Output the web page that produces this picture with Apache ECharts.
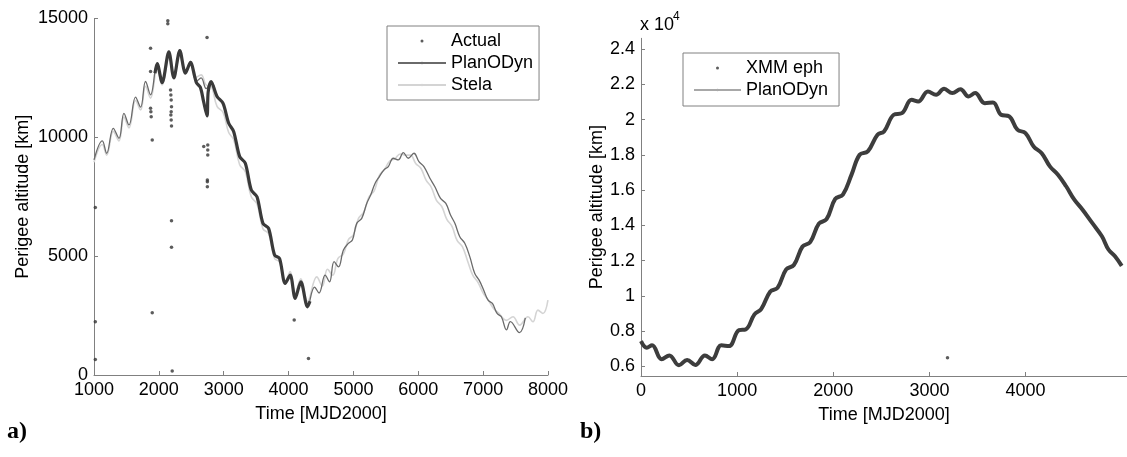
<!DOCTYPE html>
<html><head><meta charset="utf-8">
<script src="https://cdn.jsdelivr.net/npm/echarts@6/dist/echarts.min.js"></script>
<style>html,body{margin:0;padding:0;background:#fff}#c{width:1127px;height:457px}</style>
</head><body><div id="c"></div>
<script>
// ---------- Panel a) ----------
const planLeftT = [1000,1128,1195,1298,1385,1462,1539,1641,1718,1795,1872,1974,2051,2154,2231,2323,2410,2487,2579,2651,2730,2805,2897,2990,3077,3154,3246,3333,3425,3513,3605,3692,3784,3861,3948,4025,4102,4189,4292,4400,4470,4564,4631,4702,4769,4846,4923,4984,5051,5128,5205,5266,5333,5400,5471,5538,5615,5692,5769,5846,5933,6010,6087,6179,6256,6343,6425,6497,6564,6640,6717,6794,6871,6938,7009,7076,7143,7215,7281,7360,7420,7560,7650];
const planLeftV = [9050,9850,9330,10380,9960,11010,10520,11690,11270,12350,11790,13120,12350,13610,12630,13680,12770,13190,12350,12500,12050,12350,11720,11430,10590,10240,9190,8910,7780,7500,6380,6170,5050,4900,3850,4200,3220,3920,2870,3700,3450,4200,3920,4770,4550,5260,5540,5680,6380,6590,7220,7570,8060,8350,8630,8770,9120,9050,9360,9120,9330,8980,8770,8280,7920,7430,7220,6730,6380,5820,5540,4980,4270,3990,3570,3150,3010,2590,2450,1900,2250,1780,2400];

const stelaT = [1000,1128,1195,1298,1385,1462,1539,1641,1718,1795,1872,1974,2051,2154,2231,2323,2410,2487,2560,2651,2730,2805,2897,2990,3077,3154,3246,3333,3425,3513,3605,3692,3784,3861,3948,4025,4102,4189,4292,4435,4520,4600,4680,4760,4846,4923,5000,5080,5160,5240,5320,5400,5480,5560,5640,5720,5800,5880,5960,6040,6120,6200,6280,6360,6440,6520,6600,6680,6760,6840,6920,7000,7080,7160,7240,7358,7460,7563,7691,7768,7845,7922,7999];
const stelaV = [8950,9700,9250,10250,9850,10850,10400,11550,11150,12150,11650,12900,12200,13350,12500,13450,12700,13050,12500,12630,12200,12150,11300,11050,10200,9900,8850,8550,7500,7200,6150,5950,4900,4750,3900,4350,3450,4050,3100,4130,3750,4450,4200,4900,5100,5700,5900,6600,6850,7500,7750,8400,8650,9000,9100,9300,9250,9250,8900,8700,8200,7900,7350,7100,6550,6250,5650,5400,4800,4200,3900,3450,3150,2800,2600,2300,2450,2100,2450,2240,2730,2590,3150];

// dense "Actual" band (dots so close they form a thick curve)
const actualBandT = [1940,1974,2051,2154,2231,2323,2410,2487,2579,2640,2690,2743,2760,2805,2897,2990,3077,3154,3246,3333,3425,3513,3605,3692,3784,3861,3948,4025,4102,4189,4292,4330];
const actualBandV = [12700,13100,12300,13600,12500,13650,12700,13150,12300,12100,11500,10900,11900,12350,11720,11430,10590,10240,9190,8910,7780,7500,6380,6170,5050,4900,3850,4200,3220,3920,2870,3100];

// isolated "Actual" points
const actualT = [1020,1020,1020,1872,1872,1872,1877,1882,1898,1898,2138,2138,2180,2185,2190,2195,2190,2185,2190,2195,2195,2195,2206,2743,2692,2754,2754,2754,2748,2748,2748,4087,4307];
const actualV = [7050,2240,650,13750,12770,11220,11080,10870,9890,2620,14910,14780,11990,11780,11570,11290,11080,10940,10730,10480,6490,5370,170,14200,9610,9680,9470,9260,8210,8130,7920,2310,690];

const leftXTicks = [1000,2000,3000,4000,5000,6000,7000,8000];
const leftYTicks = [0,5000,10000,15000];

// ---------- Panel b) ----------
const xmmT = [0,60,115,215,295,395,480,565,665,740,835,915,1020,1090,1180,1250,1345,1420,1510,1590,1680,1760,1850,1930,2020,2100,2190,2274,2359,2460,2528,2629,2714,2815,2883,2984,3069,3153,3238,3323,3407,3475,3576,3661,3745,3830,3915,3999,4084,4168,4253,4337,4422,4507,4591,4693,4794,4862,4930,5000];
const xmmV = [7430,7060,7190,6400,6620,6060,6360,6080,6620,6400,7190,7150,8060,8100,8950,9250,10250,10450,11500,11750,12800,13050,14100,14350,15500,15750,16880,18010,18200,19150,19330,20280,20370,21130,21030,21600,21410,21750,21510,21730,21320,21510,20940,20980,20280,20190,19430,19240,18480,18100,17350,16880,16220,15460,14900,14140,13380,12630,12250,11700];
const xmmOutT = [3188];
const xmmOutV = [6480];

const rightXTicks = [0,1000,2000,3000,4000];
const rightYTicks = [6000,8000,10000,12000,14000,16000,18000,20000,22000,24000];

// ---------- chart ----------
const FONT = 'Liberation Sans, Arial, sans-serif';
const zip = (t, v) => t.map((x, i) => [x, v[i]]);
const AX = '#808080';
const plain = v => String(v);

function baseAxis(extra) {
  return Object.assign({
    type: 'value',
    axisLine: { show: true, onZero: false, lineStyle: { color: AX, width: 1 } },
    axisTick: { show: true, inside: true, length: 4, lineStyle: { color: AX, width: 1 } },
    splitLine: { show: false },
    axisLabel: { color: '#000', fontSize: 18, fontFamily: FONT, margin: 6, formatter: plain },
    nameLocation: 'middle',
    nameTextStyle: { color: '#000', fontSize: 18, fontFamily: FONT }
  }, extra);
}

const chart = echarts.init(document.getElementById('c'), null, { renderer: 'canvas' });
chart.setOption({
  animation: false,
  backgroundColor: '#fff',
  grid: [
    { left: 94, top: 18.5, width: 454, height: 356.5 },
    { left: 641, top: 38.3, width: 498, height: 337.7 }
  ],
  xAxis: [
    baseAxis({ gridIndex: 0, min: leftXTicks[0], max: leftXTicks[leftXTicks.length - 1], interval: 1000,
      name: 'Time [MJD2000]', nameGap: 30 }),
    baseAxis({ gridIndex: 1, min: 0, max: 5055,
      axisTick: { show: true, inside: true, length: 4, lineStyle: { color: AX }, customValues: rightXTicks },
      axisLabel: { color: '#000', fontSize: 18, fontFamily: FONT, margin: 6, customValues: rightXTicks, formatter: plain },
      name: 'Time [MJD2000]', nameGap: 30 })
  ],
  yAxis: [
    baseAxis({ gridIndex: 0, min: leftYTicks[0], max: leftYTicks[leftYTicks.length - 1], interval: 5000,
      name: 'Perigee altitude [km]', nameGap: 62 }),
    baseAxis({ gridIndex: 1, min: 5450, max: 24620,
      axisTick: { show: true, inside: true, length: 4, lineStyle: { color: AX }, customValues: rightYTicks },
      axisLabel: { color: '#000', fontSize: 18, fontFamily: FONT, margin: 6, customValues: rightYTicks,
        formatter: v => String(v / 10000) },
      name: 'Perigee altitude [km]', nameGap: 33 })
  ],
  legend: [
    { data: ['Actual', 'PlanODyn', 'Stela'], orient: 'vertical', left: 387, top: 26,
      itemWidth: 48, itemHeight: 3, itemGap: 0, padding: [4, 6, 4, 10],
      borderColor: '#808080', borderWidth: 1, backgroundColor: '#fff', selectedMode: false,
      textStyle: { color: '#000', fontSize: 18, fontFamily: FONT, lineHeight: 22 } },
    { data: ['XMM eph', 'PlanODyn '], orient: 'vertical', left: 683, top: 53,
      itemWidth: 47, itemHeight: 3, itemGap: 0, padding: [4, 6, 5, 10],
      borderColor: '#808080', borderWidth: 1, backgroundColor: '#fff', selectedMode: false,
      textStyle: { color: '#000', fontSize: 18, fontFamily: FONT, lineHeight: 22 } }
  ],
  series: [
    { name: 'Actual', type: 'scatter', xAxisIndex: 0, yAxisIndex: 0, data: zip(actualT, actualV),
      symbol: 'circle', symbolSize: 3.5, itemStyle: { color: '#333' }, z: 5 },
    { name: 'Stela', type: 'line', xAxisIndex: 0, yAxisIndex: 0, data: zip(stelaT, stelaV),
      symbol: 'none', smooth: 0.4, itemStyle: { color: '#d4d4d4' }, lineStyle: { color: '#d4d4d4', width: 1.6 }, z: 2 },
    { name: 'PlanODyn', type: 'line', xAxisIndex: 0, yAxisIndex: 0, data: zip(planLeftT, planLeftV),
      symbol: 'none', smooth: 0.4, itemStyle: { color: '#6a6a6a' }, lineStyle: { color: '#6a6a6a', width: 1.3 }, z: 3 },
    { name: 'Actual', type: 'line', xAxisIndex: 0, yAxisIndex: 0, data: zip(actualBandT, actualBandV),
      symbol: 'none', smooth: 0.3, itemStyle: { color: '#3a3a3a' }, lineStyle: { color: '#3a3a3a', width: 3.2 }, z: 4 },
    { name: 'XMM eph', type: 'scatter', xAxisIndex: 1, yAxisIndex: 1, data: zip(xmmOutT, xmmOutV),
      symbol: 'circle', symbolSize: 3.5, itemStyle: { color: '#333' }, z: 5 },
    { name: 'PlanODyn ', type: 'line', xAxisIndex: 1, yAxisIndex: 1, data: zip(xmmT, xmmV),
      symbol: 'none', smooth: 0.4, itemStyle: { color: '#a8a8a8' }, lineStyle: { color: '#a8a8a8', width: 1.4 }, z: 1 },
    { name: 'XMM eph', type: 'line', xAxisIndex: 1, yAxisIndex: 1, data: zip(xmmT, xmmV),
      symbol: 'none', smooth: 0.4, itemStyle: { color: '#3d3d3d' }, lineStyle: { color: '#3d3d3d', width: 4 }, z: 3 }
  ],
  graphic: [
    { type: 'text', left: 640, top: 16, style: { text: 'x 10', fill: '#000', fontSize: 18, fontFamily: FONT } },
    { type: 'text', left: 673, top: 11, style: { text: '4', fill: '#000', fontSize: 12, fontFamily: FONT } },
    { type: 'text', left: 7, top: 420, style: { text: 'a)', fill: '#000', fontSize: 24, fontWeight: 'bold', fontFamily: 'Liberation Serif, Times New Roman, serif' } },
    { type: 'text', left: 580, top: 420, style: { text: 'b)', fill: '#000', fontSize: 24, fontWeight: 'bold', fontFamily: 'Liberation Serif, Times New Roman, serif' } }
  ]
});
</script></body></html>
